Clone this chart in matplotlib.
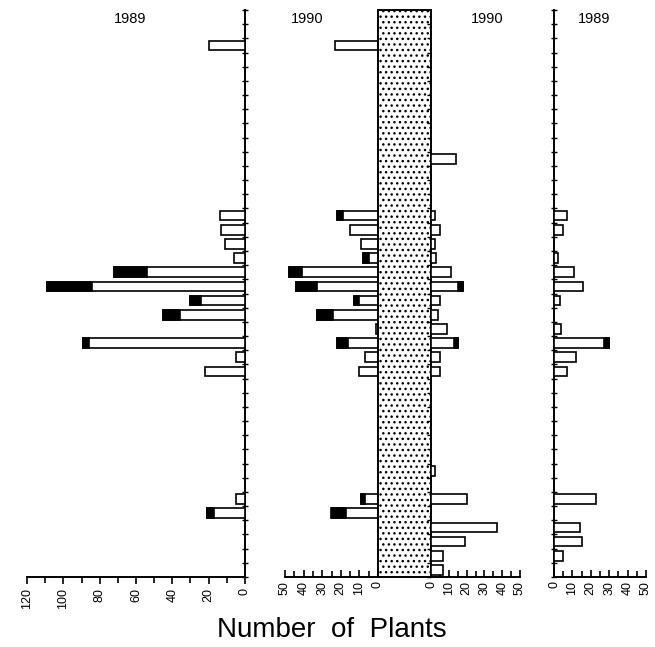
import numpy as np
import matplotlib
matplotlib.use("Agg")
import matplotlib.pyplot as plt
from matplotlib.patches import Rectangle
from matplotlib.ticker import MultipleLocator

plt.rcParams['font.family'] = ['Liberation Sans', 'DejaVu Sans']
plt.rcParams['hatch.linewidth'] = 1.0

n_rows = 40
rows = np.arange(n_rows)

# (row, total, black part)
left_1989 = [(2, 20, 0), (14, 14, 0), (15, 13, 0), (16, 11, 0), (17, 6, 0),
             (18, 72, 18), (19, 109, 25), (20, 30, 6), (21, 45, 9),
             (23, 89, 3), (24, 5, 0), (25, 22, 0), (34, 5, 0), (35, 21, 4)]
left_1990 = [(2, 23, 0), (14, 22, 3), (15, 15, 0), (16, 9, 0), (17, 8, 3),
             (18, 48, 7), (19, 44, 11), (20, 13, 3), (21, 33, 9), (22, 1, 0),
             (23, 22, 6), (24, 7, 0), (25, 10, 0), (34, 9, 2), (35, 25, 8)]
right_1990 = [(10, 14, 0), (14, 2, 0), (15, 5, 0), (16, 2, 0), (17, 3, 0),
              (18, 11, 0), (19, 18, 3), (20, 5, 0), (21, 4, 0), (22, 9, 0),
              (23, 15, 2), (24, 5, 0), (25, 5, 0), (32, 2, 0), (34, 20, 0),
              (36, 37, 0), (37, 19, 0), (38, 7, 0), (39, 7, 0)]
right_1989 = [(14, 7, 0), (15, 5, 0), (17, 2, 0), (18, 11, 0), (19, 16, 0),
              (20, 3, 0), (22, 4, 0), (23, 30, 3), (24, 12, 0), (25, 7, 0),
              (34, 23, 0), (36, 14, 0), (37, 15, 0), (38, 5, 0)]

W, H = 655, 647
fig = plt.figure(figsize=(W / 100, H / 100), dpi=100)

y_top, y_bot = 10, 577


def px_axes(x0, x1):
    return fig.add_axes([x0 / W, 1 - y_bot / H, (x1 - x0) / W, (y_bot - y_top) / H])


def draw_bars(ax, data):
    for r, tot, blk in data:
        ax.barh(r + 0.5, tot, height=0.68, color='white', edgecolor='black',
                linewidth=1.2, zorder=3)
        if blk > 0:
            ax.barh(r + 0.5, blk, left=tot - blk, height=0.68, color='black',
                    edgecolor='black', linewidth=1.2, zorder=4)


def style(ax, major, minor, side):
    ax.set_ylim(n_rows, 0)
    ax.set_yticks(np.arange(0, n_rows + 1))
    ax.tick_params(axis='y', labelleft=False, labelright=False)
    for s in ['top', 'left', 'right']:
        ax.spines[s].set_visible(False)
    ax.spines[side].set_visible(True)
    ax.spines[side].set_linewidth(1.4)
    ax.spines['bottom'].set_linewidth(1.4)
    ax.xaxis.set_major_locator(MultipleLocator(major))
    ax.xaxis.set_minor_locator(MultipleLocator(minor))
    ax.tick_params(axis='x', which='major', length=5, width=1.2, labelsize=9,
                   labelrotation=90, pad=3)
    ax.tick_params(axis='x', which='minor', length=4, width=1.2)


def year_label(x, txt):
    fig.text(x / W, 1 - 19 / H, txt, ha='center', va='center', fontsize=10.5)


# 1989, left
ax1 = px_axes(27, 245)
draw_bars(ax1, left_1989)
ax1.set_xlim(120, 0)
style(ax1, 20, 10, 'right')
ax1.yaxis.tick_right()
ax1.tick_params(axis='y', direction='inout', length=4, width=1, labelright=False)
year_label(130, '1989')

# 1990, left
ax2 = px_axes(285, 378)
draw_bars(ax2, left_1990)
ax2.set_xlim(50, 0)
style(ax2, 10, 5, 'right')
ax2.yaxis.tick_right()
ax2.tick_params(axis='y', length=0, labelright=False)
ax2.tick_params(axis='x', which='both', direction='in')
year_label(307, '1990')

# stippled band
axb = px_axes(378, 431)
axb.add_patch(Rectangle((0, 0), 1, 1, transform=axb.transAxes, fill=False,
                        hatch='...', edgecolor='black', linewidth=0))
axb.set_xticks([])
axb.set_yticks([])
for s in axb.spines.values():
    s.set_linewidth(1.4)

# 1990, right
ax3 = px_axes(431, 520)
draw_bars(ax3, right_1990)
ax3.set_xlim(0, 50)
style(ax3, 10, 5, 'left')
ax3.tick_params(axis='y', direction='out', length=3, width=1)
ax3.tick_params(axis='x', which='both', direction='in')
year_label(487, '1990')

# 1989, right
ax4 = px_axes(554, 646)
draw_bars(ax4, right_1989)
ax4.set_xlim(0, 50)
style(ax4, 10, 5, 'left')
ax4.tick_params(axis='y', direction='inout', length=4, width=1)
ax4.tick_params(axis='x', which='both', direction='in')
year_label(594, '1989')

fig.text(332 / W, 1 - 630 / H, 'Number  of  Plants', ha='center', va='center',
         fontsize=20)

fig.savefig('out.png', dpi=100)
